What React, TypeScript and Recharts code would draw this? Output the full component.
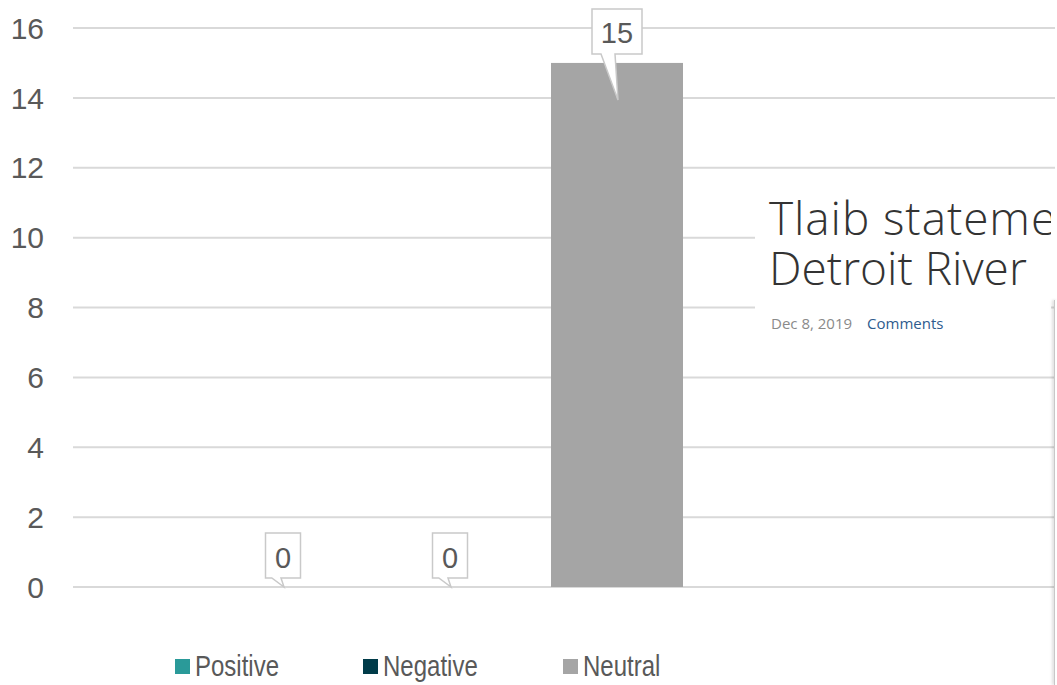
import React from 'react';
import { BarChart, Bar, XAxis, YAxis, CartesianGrid, Legend } from 'recharts';

// Sentiment counts for the article
const categories = ['Sentiment'];
const positiveValues = [0];
const negativeValues = [0];
const neutralValues = [15];

const seriesNames = ['Positive', 'Negative', 'Neutral'];
const seriesColors = ['#2A9A99', '#003B49', '#A5A5A5'];
const yTicks = [0, 2, 4, 6, 8, 10, 12, 14, 16];

const articleTitle = ['Tlaib statement on', 'Detroit River'];
const articleDate = 'Dec 8, 2019';
const articleLink = 'Comments';

const data = categories.map((name, i) => ({
  name,
  Positive: positiveValues[i],
  Negative: negativeValues[i],
  Neutral: neutralValues[i],
}));

const labelFont = '"Liberation Sans", Arial, sans-serif';
const textGray = '#595959';

// Excel-style data callout: a box above the bar with a tail pointing into it
const renderCallout = (x: number, y: number, width: number, height: number, value: number) => {
  const text = String(value);
  const cx = x + width / 2;
  const w = text.length > 1 ? 50 : 35;
  const h = 45;
  const tipX = cx + 1;
  const tipY = y + Math.min(37, Math.max(0, height || 0));
  const boxBottom = y - 9;
  const boxTop = boxBottom - h;
  const left = cx - w / 2;
  const right = cx + w / 2;
  const baseL = cx - 0.32 * w;
  const baseR = cx - 2;
  const d = `M${left},${boxTop} L${right},${boxTop} L${right},${boxBottom} L${baseR},${boxBottom} L${tipX},${tipY} L${baseL},${boxBottom} L${left},${boxBottom} Z`;
  return (
    <g>
      <path d={d} fill="#ffffff" stroke="#C9C9C9" strokeWidth={1.5} strokeLinejoin="miter" />
      <text
        x={cx}
        y={boxTop + h / 2 + 2}
        textAnchor="middle"
        dominantBaseline="central"
        fontFamily={labelFont}
        fontSize={29}
        fill={textGray}
      >
        {text}
      </text>
    </g>
  );
};

// Bar body plus its value callout, so zero-height bars still carry a label
const makeBarShape = (dataKey: string) => (props: any) => {
  const x = Number(props.x);
  const y = Number(props.y);
  const width = Number(props.width);
  const height = Number(props.height) || 0;
  const value = props.payload ? props.payload[dataKey] : props.value;
  return (
    <g>
      {height > 0 && <rect x={x} y={y} width={width} height={height} fill={props.fill} />}
      {renderCallout(x, y, width, height, value)}
    </g>
  );
};

const legendLefts = [175, 363, 563];

const LegendContent = () => (
  <div style={{ position: 'relative', width: 1057, height: 98 }}>
    {seriesNames.map((name, i) => (
      <div
        key={name}
        style={{
          position: 'absolute',
          left: legendLefts[i],
          top: 63,
          height: 32,
          display: 'flex',
          alignItems: 'center',
        }}
      >
        <div style={{ width: 15, height: 15, background: seriesColors[i], marginRight: 5, marginTop: 1 }} />
        <span
          style={{
            display: 'inline-block',
            fontFamily: labelFont,
            fontSize: 30,
            color: textGray,
            lineHeight: '32px',
            transform: 'scaleX(0.8)',
            transformOrigin: 'left center',
          }}
        >
          {name}
        </span>
      </div>
    ))}
  </div>
);

export default function App() {
  return (
    <div style={{ position: 'absolute', left: 0, top: 0, width: 1057, height: 685, overflow: 'hidden', background: '#fff' }}>
      <BarChart
        width={1057}
        height={685}
        data={data}
        margin={{ top: 28, right: 2, left: 0, bottom: 0 }}
        barGap={35}
      >
        <CartesianGrid vertical={false} stroke="#D9D9D9" strokeWidth={2} />
        <XAxis dataKey="name" hide padding={{ left: 1, right: 229 }} />
        <YAxis
          width={73}
          domain={[0, 16]}
          ticks={yTicks}
          interval={0}
          axisLine={false}
          tickLine={false}
          tickSize={0}
          tickMargin={29}
          tick={{ fontFamily: labelFont, fontSize: 30, fill: textGray }}
        />
        <Legend verticalAlign="bottom" height={98} content={<LegendContent />} />
        {seriesNames.map((name, i) => (
          <Bar
            key={name}
            dataKey={name}
            name={name}
            fill={seriesColors[i]}
            barSize={132}
            isAnimationActive={false}
            shape={makeBarShape(name)}
          />
        ))}
      </BarChart>

      {/* article header panel */}
      <div
        style={{
          position: 'absolute',
          left: 755,
          top: 186,
          width: 296,
          height: 160,
          background: '#fff',
          overflow: 'hidden',
          fontFamily: '"Open Sans", sans-serif',
          color: '#333333',
        }}
      >
        <div style={{ position: 'absolute', left: 14, top: 6, whiteSpace: 'nowrap', fontSize: 46, fontWeight: 300, lineHeight: '50px', letterSpacing: '0.9px' }}>
          {articleTitle[0]}
        </div>
        <div style={{ position: 'absolute', left: 14, top: 56, whiteSpace: 'nowrap', fontSize: 46, fontWeight: 300, lineHeight: '50px' }}>
          {articleTitle[1]}
        </div>
        <div
          style={{
            position: 'absolute',
            left: 16,
            top: 127,
            whiteSpace: 'nowrap',
            fontSize: 15,
            color: '#8a8a8a',
          }}
        >
          {articleDate}
          <span style={{ marginLeft: 15, color: '#2E5C8E' }}>{articleLink}</span>
        </div>
      </div>
      <div style={{ position: 'absolute', left: 1051, top: 186, width: 6, height: 114, background: '#fff' }} />
      <div
        style={{
          position: 'absolute',
          left: 1054,
          top: 300,
          width: 3,
          height: 385,
          background: '#fff',
          borderLeft: '1px solid #C8C8C8',
          boxShadow: '-2px 0 3px rgba(0,0,0,0.12)',
        }}
      />
    </div>
  );
}
